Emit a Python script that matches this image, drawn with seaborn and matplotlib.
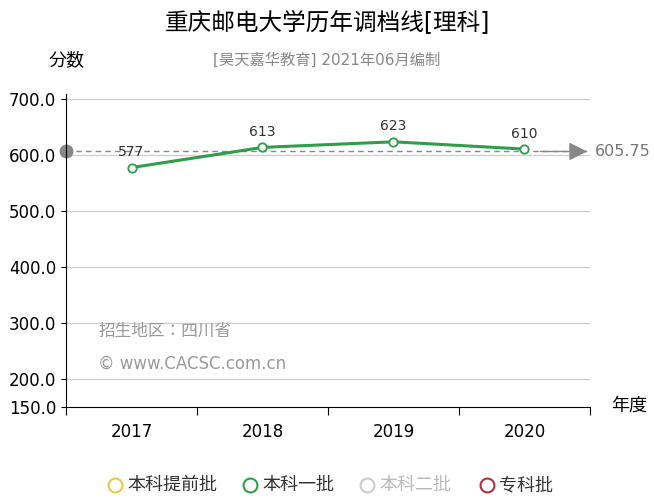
import matplotlib
matplotlib.use("Agg")
import matplotlib.pyplot as plt
from matplotlib import font_manager
import seaborn as sns
import pandas as pd

cjk = [f.name for f in font_manager.fontManager.ttflist if "CJK" in f.name]
plt.rcParams["font.family"] = ["DejaVu Sans"] + (["Noto Sans CJK SC"] if "Noto Sans CJK SC" in cjk else cjk[:1])

years = ["2017", "2018", "2019", "2020"]
scores = [577, 613, 623, 610]
avg_score = 605.75
y_ticks = [150, 200, 300, 400, 500, 600, 700]
legend_names = ["本科提前批", "本科一批", "本科二批", "专科批"]
legend_colors = ["#e6c84a", "#2e9e4a", "#cccccc", "#b0303a"]
legend_x = [115, 250, 367, 487]

df = pd.DataFrame({"pos": [0.5, 1.5, 2.5, 3.5], "score": scores})

fig = plt.figure(figsize=(6.54, 5.01), dpi=100)
ax = fig.add_axes([0.101, 0.188, 0.801, 0.624])

for t in y_ticks[1:]:
    ax.axhline(t, color="#d0d0d0", lw=1, zorder=0)

sns.lineplot(data=df, x="pos", y="score", ax=ax, color="#2e9e4a", lw=2.2,
             marker="o", markersize=6, markerfacecolor="white",
             markeredgecolor="#2e9e4a", markeredgewidth=1.3)
for p, s in zip(df["pos"], scores):
    ax.text(p, s + 15, str(s), ha="center", va="bottom", fontsize=10, color="#333")

ax.axhline(avg_score, color="#888", lw=1, ls=(0, (4, 3)), zorder=1)
ax.plot([0], [avg_score], "o", color="#888", ms=9, clip_on=False)
ax.annotate("", xy=(4.0, avg_score), xytext=(3.6, avg_score),
            arrowprops=dict(arrowstyle="-|>", color="#888", lw=1, mutation_scale=28),
            annotation_clip=False)
ax.text(4.04, avg_score, "605.75", va="center", fontsize=11.5, color="#777")

ax.set_xlim(0, 4)
ax.set_ylim(150, 708)
ax.set_xticks([0, 1, 2, 3, 4])
ax.set_xticklabels([])
ax.set_xticks([0.5, 1.5, 2.5, 3.5], minor=True)
ax.set_xticklabels(years, minor=True, fontsize=12)
ax.tick_params(axis="x", which="minor", length=0, pad=12)
ax.tick_params(axis="x", which="major", length=6)
ax.set_yticks(y_ticks)
ax.set_yticklabels([f"{t:.1f}" for t in y_ticks], fontsize=12)
ax.set_xlabel("")
ax.set_ylabel("")
for s in ["top", "right"]:
    ax.spines[s].set_visible(False)

fig.text(0.5, 0.955, "重庆邮电大学历年调档线[理科]", ha="center", va="center", fontsize=17)
fig.text(0.5, 0.88, "[昊天嘉华教育] 2021年06月编制", ha="center", va="center", fontsize=11, color="#888")
fig.text(0.075, 0.88, "分数", ha="left", va="center", fontsize=13)
fig.text(0.935, 0.19, "年度", ha="left", va="center", fontsize=13)
fig.text(0.15, 0.33, "招生地区：四川省", fontsize=12, color="#999")
fig.text(0.15, 0.265, "© www.CACSC.com.cn", fontsize=12, color="#999")

W, H = 654, 501
for lx, name, c in zip(legend_x, legend_names, legend_colors):
    fig.lines.append(plt.Line2D([lx / W], [1 - 485 / H], transform=fig.transFigure,
                                marker="o", ms=10, mfc="white", mec=c, mew=1.5, ls=""))
    fig.text((lx + 12) / W, 1 - 485 / H, name, color="#bbb" if c == "#cccccc" else "#333",
             fontsize=13, va="center")

fig.savefig("out.png", dpi=100)
